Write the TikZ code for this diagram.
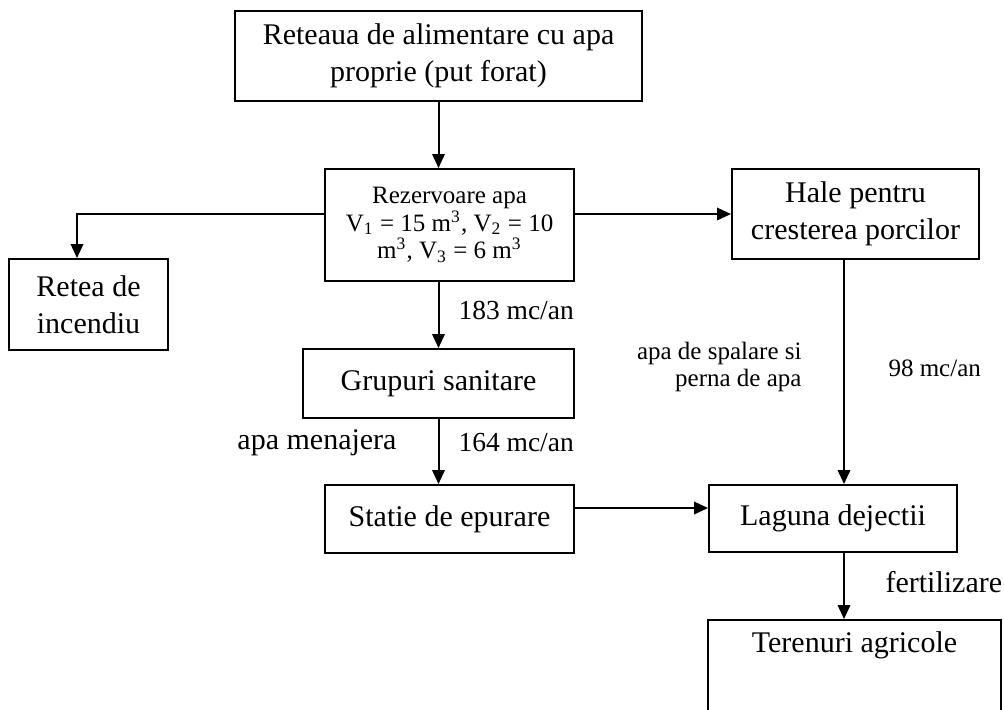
\documentclass[tikz,border=0pt]{standalone}
\usepackage{fontspec}
\setmainfont{Liberation Serif}
\usetikzlibrary{arrows.meta}

\tikzset{
  box/.style={draw,line width=0.8pt,align=center,inner sep=0pt,
    font=\fontsize{12}{14.8}\selectfont},
  arr/.style={line width=0.8pt,-{Triangle[length=5.6pt,width=5pt]}},
  lbl/.style={inner sep=0pt,font=\fontsize{12}{14.8}\selectfont},
}

\begin{document}
\begin{tikzpicture}[x=0.4pt,y=-0.4pt]

\clip (0,0) rectangle (1004,709);

% The water supply and the tanks
\node[box,minimum width=162.8pt,minimum height=36pt] (src) at (438.5,56)
  {Reteaua de alimentare cu apa\\proprie (put forat)};
\node[box,minimum width=99.6pt,minimum height=44.8pt,
  font=\fontsize{10}{11}\selectfont] (rez) at (449.5,225)
  {Rezervoare apa\\V\textsubscript{1} = 15 m\textsuperscript{3}, V\textsubscript{2} = 10\\
   m\textsuperscript{3}, V\textsubscript{3} = 6 m\textsuperscript{3}};

% Consumers
\node[box,minimum width=63.6pt,minimum height=36.4pt] (ret) at (88.5,304.5)
  {Retea de\\incendiu};
\node[box,minimum width=98.8pt,minimum height=36pt] (hale) at (855.5,214)
  {Hale pentru\\cresterea porcilor};
\node[box,minimum width=108.4pt,minimum height=27.6pt] (grup) at (438.5,383.5)
  {Grupuri sanitare};

% Treatment and disposal
\node[box,minimum width=99.6pt,minimum height=27.2pt] (stat) at (449.5,519)
  {Statie de epurare};
\node[box,minimum width=99.2pt,minimum height=26.8pt] (lag) at (833,518.5)
  {Laguna dejectii};
\node[box,minimum width=117.2pt,minimum height=36.8pt] (ter) at (854.5,666)
  {Terenuri agricole\\ \strut};

% Connections
\draw[arr] (src.south) -- (src.south |- rez.north);
\draw[arr] (rez.west |- hale.west) -| ([xshift=-4.6pt]ret.north);
\draw[arr] (rez.east |- hale.west) -- (hale.west);
\draw[arr] (grup.north |- rez.south) -- (grup.north);
\draw[arr] (grup.south) -- (grup.south |- stat.north);
\draw[arr] ([yshift=4.4pt]stat.east) -- ([yshift=4.4pt]stat.east -| lag.west);
\draw[arr] ([xshift=-4.6pt]hale.south) -- ([xshift=-4.6pt]hale.south |- lag.north);
\draw[arr] ([xshift=4.4pt]lag.south) -- ([xshift=4.4pt]lag.south |- ter.north);

% Flow labels
\node[lbl,anchor=west,font=\fontsize{11}{13}\selectfont] (q1) at (458,310) {183 mc/an};
\node[lbl,anchor=west,font=\fontsize{11}{13}\selectfont] (q2) at (458,443) {164 mc/an};
\node[lbl,anchor=east] (menaj) at (397,443) {apa menajera};
\node[lbl,anchor=east,align=right,font=\fontsize{10}{11}\selectfont] (spal) at (802,367)
  {apa de spalare si\\perna de apa};
\node[lbl,anchor=west,font=\fontsize{10}{12}\selectfont] (q3) at (888,368) {98 mc/an};
\node[lbl,anchor=west] (fert) at (885,582) {fertilizare};

\end{tikzpicture}
\end{document}
